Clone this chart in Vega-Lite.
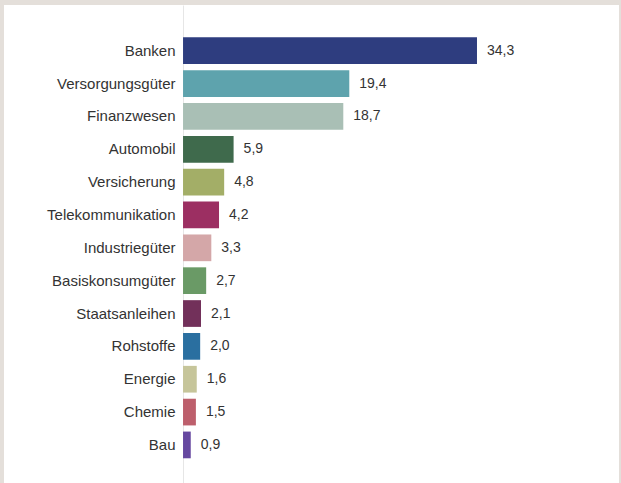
{
  "$schema": "https://vega.github.io/schema/vega-lite/v6.json",
  "width": 621,
  "height": 483,
  "autosize": {"type": "fit", "contains": "padding"},
  "padding": {"top": 5, "left": 4, "right": 2, "bottom": 0},
  "background": "#e4dfda",
  "config": {
    "view": {"fill": "#ffffff", "stroke": null}
  },
  "data": {
    "values": [
      {"sektor": "Banken", "wert": 34.3, "wertText": "34,3", "farbe": "#2e3d7f"},
      {"sektor": "Versorgungsgüter", "wert": 19.4, "wertText": "19,4", "farbe": "#5ea3ad"},
      {"sektor": "Finanzwesen", "wert": 18.7, "wertText": "18,7", "farbe": "#a9bfb5"},
      {"sektor": "Automobil", "wert": 5.9, "wertText": "5,9", "farbe": "#3f6a4c"},
      {"sektor": "Versicherung", "wert": 4.8, "wertText": "4,8", "farbe": "#a3ae67"},
      {"sektor": "Telekommunikation\u00a0", "wert": 4.2, "wertText": "4,2", "farbe": "#9c2f62"},
      {"sektor": "Industriegüter", "wert": 3.3, "wertText": "3,3", "farbe": "#d4a7a8"},
      {"sektor": "Basiskonsumgüter", "wert": 2.7, "wertText": "2,7", "farbe": "#6a9a66"},
      {"sektor": "Staatsanleihen", "wert": 2.1, "wertText": "2,1", "farbe": "#72305a"},
      {"sektor": "Rohstoffe", "wert": 2.0, "wertText": "2,0", "farbe": "#2a6fa0"},
      {"sektor": "Energie", "wert": 1.6, "wertText": "1,6", "farbe": "#c6c59a"},
      {"sektor": "Chemie", "wert": 1.5, "wertText": "1,5", "farbe": "#bd5f6c"},
      {"sektor": "Bau", "wert": 0.9, "wertText": "0,9", "farbe": "#6648a0"}
    ]
  },
  "encoding": {
    "y": {
      "field": "sektor",
      "type": "nominal",
      "sort": null,
      "scale": {"paddingInner": 0.187, "paddingOuter": 0.869, "align": 0.567},
      "axis": {
        "title": null,
        "offset": -179,
        "ticks": false,
        "domainColor": "#e6e6e6",
        "labelPadding": 8,
        "labelFont": "Liberation Sans",
        "labelFontSize": 15,
        "labelColor": "#333333",
        "labelLimit": 300
      }
    },
    "x": {
      "field": "wert",
      "type": "quantitative",
      "axis": null,
      "scale": {"domain": [-20.89, 50.87], "nice": false, "zero": false}
    }
  },
  "layer": [
    {
      "mark": {"type": "bar"},
      "encoding": {
        "color": {"field": "farbe", "type": "nominal", "scale": null, "legend": null}
      }
    },
    {
      "mark": {"type": "text", "align": "left", "baseline": "middle", "dx": 10, "fontSize": 14, "font": "Liberation Sans", "color": "#333333"},
      "encoding": {
        "text": {"field": "wertText", "type": "nominal"}
      }
    }
  ]
}
